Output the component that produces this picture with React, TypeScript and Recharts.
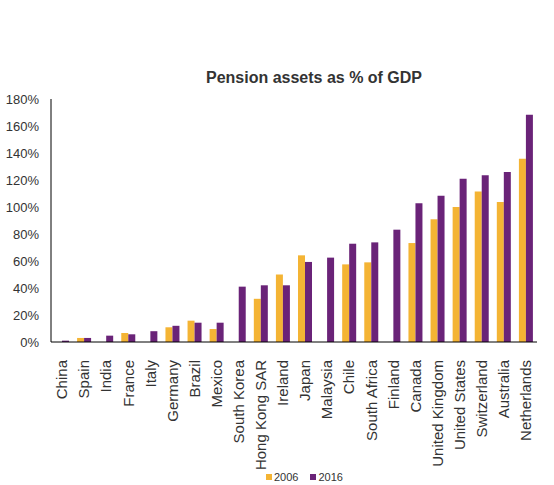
import { Bar, BarChart, Legend, XAxis, YAxis } from "recharts";

const countries = [
  "China",
  "Spain",
  "India",
  "France",
  "Italy",
  "Germany",
  "Brazil",
  "Mexico",
  "South Korea",
  "Hong Kong SAR",
  "Ireland",
  "Japan",
  "Malaysia",
  "Chile",
  "South Africa",
  "Finland",
  "Canada",
  "United Kingdom",
  "United States",
  "Switzerland",
  "Australia",
  "Netherlands",
];

const assets2006: (number | null)[] = [
  null, 3, null, 6.7, null, 10.9, 15.8, 9.6, null, 32, 50, 64.2, null, 57.5,
  59, null, 73.3, 90.9, 100, 111.4, 103.7, 135.8,
];

const assets2016: (number | null)[] = [
  1, 3, 4.7, 5.7, 8, 12, 14.3, 14.3, 41, 42, 42, 59.3, 62.5, 72.8, 73.8, 83.2,
  102.7, 108.4, 121, 123.5, 126, 168.4,
];

const yTicks = [0, 20, 40, 60, 80, 100, 120, 140, 160, 180];

const colors = {
  y2006: "#F4B434",
  y2016: "#6A2378",
  text: "#333333",
  axis: "#000000",
};

const data = countries.map((country, i) => ({
  country,
  y2006: assets2006[i],
  y2016: assets2016[i],
}));

function CountryTick({ x, y, payload }: { x?: number; y?: number; payload?: { value: string } }) {
  const ty = (y ?? 0) + 10;
  return (
    <text
      x={x}
      y={ty}
      transform={`rotate(-90, ${x}, ${ty})`}
      textAnchor="end"
      dy="0.35em"
      fill={colors.text}
      fontSize={15}
      fontFamily="'Liberation Sans', Arial, sans-serif"
    >
      {payload?.value}
    </text>
  );
}

function LegendContent() {
  const items = [
    { label: "2006", color: colors.y2006 },
    { label: "2016", color: colors.y2016 },
  ];
  return (
    <div
      style={{
        display: "flex",
        alignItems: "center",
        marginLeft: 266,
        fontFamily: "'Liberation Sans', Arial, sans-serif",
        fontSize: 11,
        color: colors.text,
        height: 16,
      }}
    >
      {items.map((item) => (
        <div key={item.label} style={{ display: "flex", alignItems: "center", marginRight: 12 }}>
          <span style={{ width: 6, height: 6, background: item.color, marginRight: 2 }} />
          <span>{item.label}</span>
        </div>
      ))}
    </div>
  );
}

export default function App() {
  return (
    <div style={{ position: "absolute", left: 0, top: 0, width: 554, height: 485, background: "#fff" }}>
      <div
        style={{
          position: "absolute",
          left: 0,
          top: 68,
          width: 628,
          textAlign: "center",
          fontFamily: "'Liberation Sans', Arial, sans-serif",
          fontWeight: "bold",
          fontSize: 16,
          color: colors.text,
          lineHeight: "20px",
        }}
      >
        Pension assets as % of GDP
      </div>
      <BarChart
        width={554}
        height={485}
        data={data}
        margin={{ top: 99, right: 17, bottom: 0, left: 0 }}
        barSize={7}
        barGap={0}
      >
        <XAxis
          dataKey="country"
          interval={0}
          height={127}
          tickLine={false}
          axisLine={{ stroke: colors.axis }}
          tick={<CountryTick />}
        />
        <YAxis
          width={51}
          domain={[0, 180]}
          ticks={yTicks}
          tickFormatter={(v: number) => `${v}%`}
          tickLine={false}
          tickMargin={6}
          axisLine={{ stroke: colors.axis }}
          tick={{ fill: colors.text, fontSize: 13, fontFamily: "'Liberation Sans', Arial, sans-serif" }}
        />
        <Legend
          verticalAlign="bottom"
          height={16}
          content={<LegendContent />}
          wrapperStyle={{ left: 0, width: 554 }}
        />
        <Bar dataKey="y2006" name="2006" fill={colors.y2006} isAnimationActive={false} />
        <Bar dataKey="y2016" name="2016" fill={colors.y2016} isAnimationActive={false} />
      </BarChart>
    </div>
  );
}
